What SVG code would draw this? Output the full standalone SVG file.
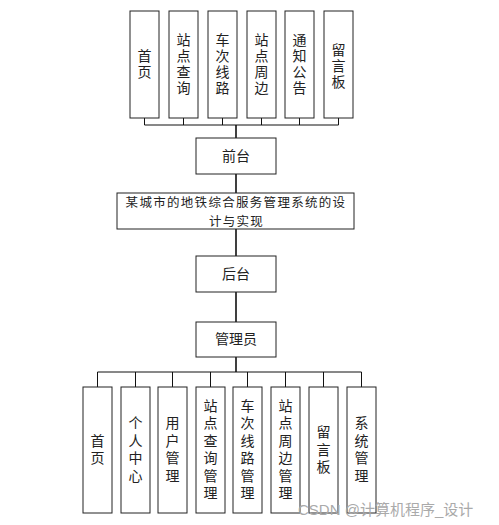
<svg xmlns="http://www.w3.org/2000/svg" width="499" height="525" viewBox="0 0 499 525">
<style>
.box{fill:#fff;stroke:#222;stroke-width:1}
.ln{fill:none;stroke:#111;stroke-width:1}
.tr{fill:none;stroke:#111;stroke-width:1.6}
text{font-family:"Noto Sans CJK SC","Noto Sans",sans-serif;font-size:14px;fill:#222;text-anchor:middle}
.v{writing-mode:vertical-rl}
.tt{font-size:12.5px;letter-spacing:1.3px}
.wm{font-family:"Liberation Sans","Noto Sans CJK SC",sans-serif;font-size:15px;fill:#aaa;text-anchor:start}
</style>
<rect width="499" height="525" fill="#fff"/>
<g id="connectors">
<path class="ln" d="M144.5 118V125H338.5V118M183.5 118V125M222.5 118V125M261.5 118V125M299.5 118V125"/>
<path class="tr" d="M236 125V138M236 174V193M236 229V256M236 292V322M236 357V372"/>
<path class="ln" d="M97.5 387V372H361.5V387M135.5 372V387M172.5 372V387M210.5 372V387M247.5 372V387M285.5 372V387M323.5 372V387"/>
</g>
<g id="n-shouye"><rect class="box" x="130" y="11" width="29" height="107"/><text class="v"><tspan x="144.5" y="55.5">首</tspan><tspan x="144.5" y="71.5">页</tspan></text></g>
<g id="n-zdcx"><rect class="box" x="169" y="11" width="29" height="107"/><text class="v"><tspan x="183.5" y="40">站</tspan><tspan x="183.5" y="56">点</tspan><tspan x="183.5" y="72">查</tspan><tspan x="183.5" y="88">询</tspan></text></g>
<g id="n-ccxl"><rect class="box" x="208" y="11" width="29" height="107"/><text class="v"><tspan x="222.5" y="40">车</tspan><tspan x="222.5" y="56">次</tspan><tspan x="222.5" y="72">线</tspan><tspan x="222.5" y="88">路</tspan></text></g>
<g id="n-zdzb"><rect class="box" x="247" y="11" width="29" height="107"/><text class="v"><tspan x="261.5" y="40">站</tspan><tspan x="261.5" y="56">点</tspan><tspan x="261.5" y="72">周</tspan><tspan x="261.5" y="88">边</tspan></text></g>
<g id="n-tzgg"><rect class="box" x="285" y="11" width="29" height="107"/><text class="v"><tspan x="299.5" y="40">通</tspan><tspan x="299.5" y="56">知</tspan><tspan x="299.5" y="72">公</tspan><tspan x="299.5" y="88">告</tspan></text></g>
<g id="n-lyb"><rect class="box" x="324" y="11" width="29" height="107"/><text class="v"><tspan x="338.5" y="50">留</tspan><tspan x="338.5" y="66">言</tspan><tspan x="338.5" y="82">板</tspan></text></g>
<g id="n-qiantai"><rect class="box" x="196" y="138" width="80" height="36"/><text x="236" y="161">前台</text></g>
<g id="n-title"><rect class="box" x="117" y="193" width="237" height="36"/><text class="tt" x="236" y="207">某城市的地铁综合服务管理系统的设</text><text class="tt" x="236.5" y="225.5">计与实现</text></g>
<g id="n-houtai"><rect class="box" x="196" y="256" width="80" height="36"/><text x="236" y="279">后台</text></g>
<g id="n-admin"><rect class="box" x="196" y="322" width="80" height="35"/><text x="236" y="344">管理员</text></g>
<g id="b-shouye"><rect class="box" x="83" y="387" width="29" height="126"/><text class="v"><tspan x="97.5" y="440.5">首</tspan><tspan x="97.5" y="458">页</tspan></text></g>
<g id="b-grzx"><rect class="box" x="121" y="387" width="29" height="126"/><text class="v"><tspan x="135.5" y="423">个</tspan><tspan x="135.5" y="440.5">人</tspan><tspan x="135.5" y="458">中</tspan><tspan x="135.5" y="475.5">心</tspan></text></g>
<g id="b-yhgl"><rect class="box" x="158" y="387" width="29" height="126"/><text class="v"><tspan x="172.5" y="423">用</tspan><tspan x="172.5" y="440.5">户</tspan><tspan x="172.5" y="458">管</tspan><tspan x="172.5" y="475.5">理</tspan></text></g>
<g id="b-zdcxgl"><rect class="box" x="196" y="387" width="29" height="126"/><text class="v"><tspan x="210.5" y="405.5">站</tspan><tspan x="210.5" y="423">点</tspan><tspan x="210.5" y="440.5">查</tspan><tspan x="210.5" y="458">询</tspan><tspan x="210.5" y="475.5">管</tspan><tspan x="210.5" y="493">理</tspan></text></g>
<g id="b-ccxlgl"><rect class="box" x="233" y="387" width="29" height="126"/><text class="v"><tspan x="247.5" y="405.5">车</tspan><tspan x="247.5" y="423">次</tspan><tspan x="247.5" y="440.5">线</tspan><tspan x="247.5" y="458">路</tspan><tspan x="247.5" y="475.5">管</tspan><tspan x="247.5" y="493">理</tspan></text></g>
<g id="b-zdzbgl"><rect class="box" x="271" y="387" width="29" height="126"/><text class="v"><tspan x="285.5" y="405.5">站</tspan><tspan x="285.5" y="423">点</tspan><tspan x="285.5" y="440.5">周</tspan><tspan x="285.5" y="458">边</tspan><tspan x="285.5" y="475.5">管</tspan><tspan x="285.5" y="493">理</tspan></text></g>
<g id="b-lyb"><rect class="box" x="309" y="387" width="29" height="126"/><text class="v"><tspan x="323.5" y="432">留</tspan><tspan x="323.5" y="449.5">言</tspan><tspan x="323.5" y="467">板</tspan></text></g>
<g id="b-xtgl"><rect class="box" x="347" y="387" width="29" height="126"/><text class="v"><tspan x="361.5" y="423">系</tspan><tspan x="361.5" y="440.5">统</tspan><tspan x="361.5" y="458">管</tspan><tspan x="361.5" y="475.5">理</tspan></text></g>
<text class="wm" x="298" y="515">CSDN @<tspan font-family="Noto Sans CJK SC, sans-serif">计算机程序</tspan>_<tspan font-family="Noto Sans CJK SC, sans-serif">设计</tspan></text>
</svg>
